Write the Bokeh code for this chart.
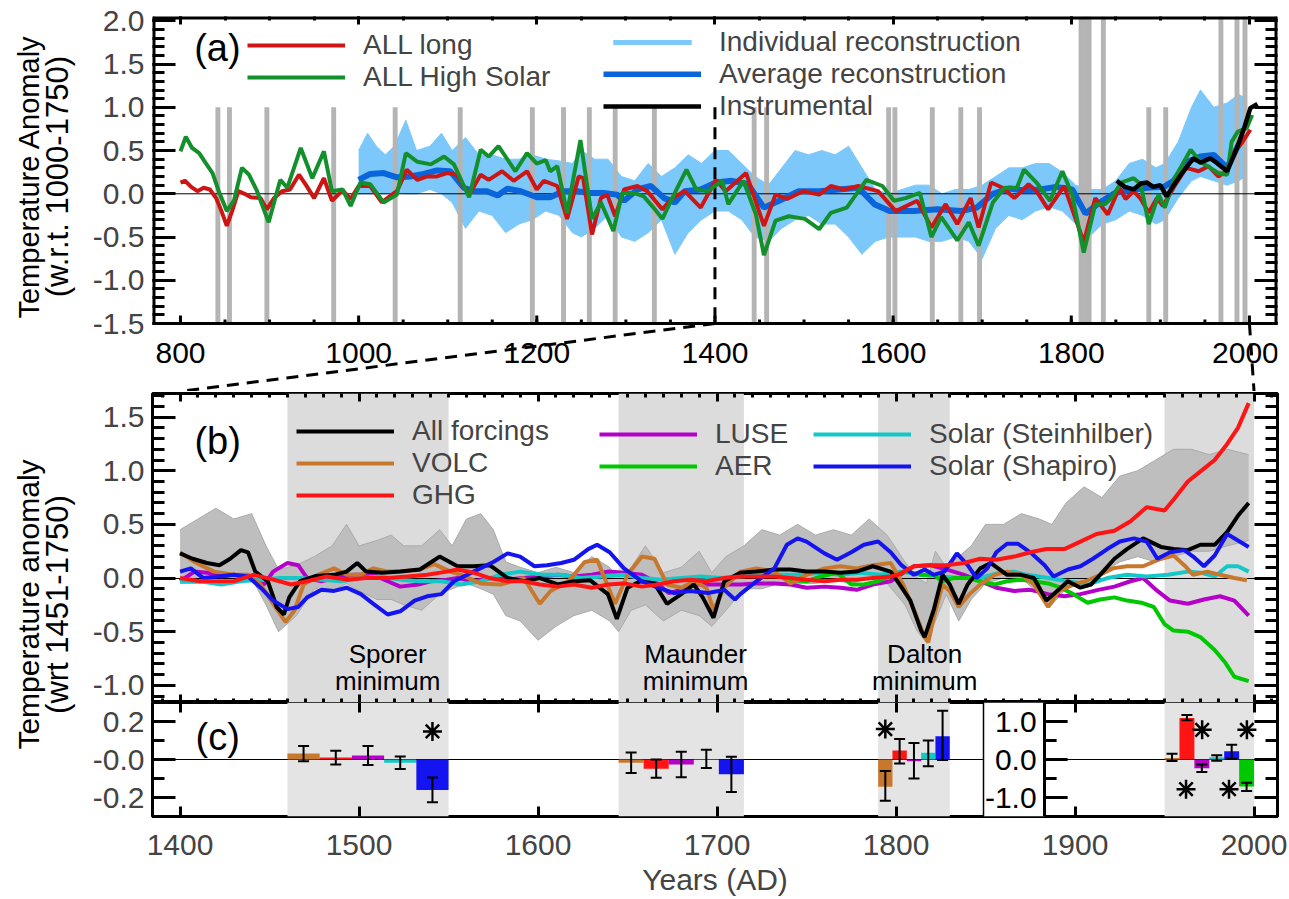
import math
from bokeh.plotting import figure
from bokeh.models import (Range1d, LinearAxis, FixedTicker, SingleIntervalTicker,
                          PrintfTickFormatter, Legend, LegendItem)
from bokeh.layouts import column, row
from bokeh.core.properties import value
from bokeh.embed import file_html
from bokeh.resources import INLINE

FONT = "Liberation Sans"

# ---------------- panel (a) data ----------------
a_red_yr = [800,805,812,819,826,833,840,846,852,858,865,872,879,890,897,905,914,923,933,941,950,961,970,982,991,1000,1013,1026,1036,1043,1054,1066,1077,1088,1099,1110,1124,1137,1146,1161,1174,1189,1200,1208,1223,1234,1247,1252,1262,1272,1279,1288,1298,1313,1324,1341,1352,1366,1384,1401,1412,1435,1455,1468,1481,1499,1517,1530,1545,1561,1583,1603,1627,1643,1659,1672,1687,1696,1710,1723,1736,1752,1761,1774,1792,1814,1827,1841,1854,1861,1870,1878,1887,1896,1903,1916,1929,1943,1954,1965,1974,1983,1991,2001]
a_red = [0.13,0.15,0.08,0.03,0.07,0.05,-0.05,-0.2,-0.37,-0.2,0.03,0.0,-0.04,-0.05,-0.18,-0.05,0.03,0.05,0.22,0.1,-0.05,0.18,-0.08,0.04,-0.06,0.09,0.09,-0.1,-0.02,0.03,0.28,0.16,0.2,0.2,0.24,0.22,-0.01,0.22,0.16,0.26,0.15,0.26,0.05,0.15,0.09,-0.29,0.2,0.18,-0.47,-0.05,-0.01,-0.26,0.05,0.09,0.03,-0.18,-0.05,0.03,-0.16,0.16,0.03,0.24,-0.37,-0.01,-0.06,0.03,-0.01,0.09,0.05,0.09,0.03,-0.2,-0.08,-0.39,-0.12,-0.35,-0.05,-0.39,0.13,0.07,-0.05,0.11,0.03,-0.18,0.09,-0.56,-0.05,-0.24,0.07,-0.06,0.03,-0.06,-0.22,-0.05,-0.14,0.09,0.3,0.26,0.32,0.2,0.26,0.49,0.58,0.74]

a_green_yr = [800,806,813,821,828,836,843,852,860,869,877,886,899,912,920,935,948,961,970,982,991,1002,1013,1028,1043,1053,1066,1081,1096,1107,1124,1137,1146,1157,1176,1189,1200,1210,1215,1223,1234,1249,1262,1272,1286,1296,1309,1320,1331,1341,1352,1368,1379,1392,1408,1415,1432,1446,1455,1468,1483,1501,1517,1530,1548,1570,1588,1601,1614,1630,1643,1654,1672,1685,1696,1712,1725,1739,1747,1761,1776,1790,1801,1814,1827,1838,1845,1856,1870,1878,1887,1898,1905,1916,1934,1945,1956,1965,1975,1980,1987,1997,2003]
a_green = [0.49,0.66,0.53,0.47,0.36,0.24,0.03,-0.2,-0.08,0.3,0.22,0.03,-0.33,0.16,0.07,0.53,0.18,0.49,0.03,0.05,-0.14,0.13,0.11,-0.1,-0.01,0.47,0.37,0.34,0.43,0.34,-0.04,0.51,0.43,0.55,0.26,0.47,0.35,0.39,0.26,0.32,-0.22,0.62,-0.29,-0.1,-0.43,0.01,0.01,-0.03,-0.16,-0.29,-0.05,0.28,0.05,0.03,0.15,-0.12,0.15,-0.24,-0.71,-0.31,-0.26,-0.29,-0.41,-0.22,-0.16,0.16,0.09,-0.08,-0.05,0.01,-0.5,-0.27,-0.54,-0.33,-0.6,-0.1,0.07,0.07,0.28,0.13,-0.08,0.26,-0.01,-0.68,-0.12,-0.12,-0.05,0.13,0.18,0.11,-0.35,-0.01,-0.16,0.18,0.51,0.37,0.3,0.24,0.22,0.6,0.72,0.76,0.91]

a_avg_yr = [1000,1013,1028,1043,1058,1073,1088,1103,1118,1129,1144,1156,1167,1182,1200,1215,1230,1245,1260,1275,1290,1298,1313,1328,1343,1355,1366,1384,1401,1419,1437,1455,1472,1494,1517,1539,1561,1579,1596,1623,1650,1676,1694,1712,1730,1747,1765,1783,1801,1816,1832,1849,1866,1885,1904,1915,1930,1945,1960,1975,1986,1994]
a_avg = [0.16,0.23,0.24,0.19,0.2,0.23,0.27,0.26,0.07,0.03,0.03,-0.02,0.06,0.03,-0.04,-0.04,0.03,0.03,0.01,0.01,-0.01,-0.08,0.05,0.09,-0.05,-0.1,0.03,0.05,0.13,0.15,0.11,-0.16,-0.08,0.03,0.03,0.05,0.07,-0.12,-0.2,-0.2,-0.18,-0.2,-0.16,0.0,0.06,0.04,0.05,0.08,0.05,-0.23,-0.1,0.01,0.04,0.07,0.08,0.15,0.37,0.43,0.45,0.3,0.53,0.68]

a_inst_yr = [1851,1860,1870,1878,1885,1892,1900,1907,1915,1923,1937,1945,1956,1963,1975,1986,1994,2001,2009]
a_inst = [0.15,0.08,0.05,0.12,0.13,0.08,0.1,-0.03,0.1,0.22,0.41,0.36,0.41,0.36,0.26,0.53,0.76,0.99,1.04]

a_ens_yr = [1000,1010,1020,1030,1040,1053,1065,1080,1093,1105,1120,1135,1150,1165,1180,1195,1210,1225,1240,1250,1265,1280,1295,1310,1325,1340,1355,1370,1385,1400,1415,1430,1445,1460,1475,1490,1505,1520,1535,1550,1565,1580,1595,1610,1625,1640,1655,1670,1685,1700,1715,1730,1745,1760,1775,1790,1805,1820,1835,1850,1865,1880,1895,1905,1920,1935,1945,1960,1975,1988,1996]
a_ens_hi = [0.5,0.7,0.55,0.45,0.55,0.85,0.5,0.55,0.7,0.5,0.65,0.45,0.45,0.4,0.4,0.45,0.4,0.38,0.35,0.5,0.4,0.4,0.2,0.15,0.35,0.2,0.3,0.45,0.35,0.5,0.5,0.35,0.2,0.1,0.3,0.5,0.45,0.5,0.45,0.55,0.3,0.05,0.0,0.05,0.1,0.1,0.0,0.05,0.05,0.1,0.2,0.3,0.3,0.35,0.35,0.25,0.1,0.05,0.05,0.15,0.35,0.4,0.3,0.35,0.6,1.0,1.2,1.0,1.05,1.15,1.1]
a_ens_lo = [0.0,0.0,0.0,0.0,0.02,0.0,0.0,0.05,0.0,-0.1,-0.4,-0.2,-0.25,-0.45,-0.35,-0.3,-0.2,-0.25,-0.45,-0.5,-0.4,-0.25,-0.5,-0.55,-0.45,-0.3,-0.7,-0.45,-0.3,-0.2,-0.2,-0.3,-0.5,-0.55,-0.4,-0.3,-0.25,-0.35,-0.35,-0.5,-0.7,-0.55,-0.5,-0.5,-0.5,-0.55,-0.55,-0.5,-0.55,-0.75,-0.4,-0.25,-0.3,-0.2,-0.15,-0.2,-0.35,-0.5,-0.35,-0.3,-0.2,-0.25,-0.35,-0.3,-0.05,0.15,0.2,0.15,0.1,0.15,0.2]

erupt_short = [842,855,897,972,1041,1114,1195,1230,1259,1288,1332,1444,1458,1595,1602,1644,1676,1697,1887,1906]
erupt_tall = [1811,1816,1820,1836,1968,1986,1995]
a_tick_years = [800,1000,1200,1400,1600,1800,2000]
a_tick_labels = ["800","1000","1200","1400","1600","1800","2000"]
a_y_ticks = [-1.5,-1.0,-0.5,0.0,0.5,1.0,1.5,2.0]

# ---------------- panel (b) data ----------------
b_all_yr = [1400,1407,1415,1422,1428,1434,1438,1442,1449,1454,1458,1461,1467,1476,1486,1493,1499,1504,1513,1523,1534,1545,1555,1564,1573,1583,1592,1601,1611,1620,1629,1639,1644,1650,1657,1665,1672,1680,1687,1692,1698,1704,1713,1722,1732,1741,1750,1760,1769,1778,1787,1797,1802,1808,1814,1816,1821,1826,1830,1835,1840,1847,1853,1862,1870,1877,1884,1890,1896,1903,1909,1914,1922,1929,1938,1948,1955,1963,1970,1978,1985,1991,1997]
b_all = [0.23,0.18,0.14,0.12,0.18,0.26,0.24,0.06,-0.03,-0.27,-0.34,-0.18,-0.03,0.02,0.03,0.06,0.14,0.06,0.05,0.06,0.08,0.2,0.11,0.11,0.12,0.0,-0.03,0.0,-0.06,-0.03,-0.02,-0.15,-0.38,-0.09,-0.03,-0.05,-0.24,-0.15,-0.06,-0.18,-0.37,-0.03,0.05,0.06,0.08,0.08,0.06,0.06,0.05,0.06,0.11,0.06,-0.06,-0.21,-0.49,-0.55,-0.3,0.03,-0.06,-0.24,-0.06,0.09,0.14,0.03,0.03,0.0,-0.21,-0.12,-0.03,-0.09,-0.06,0.03,0.18,0.27,0.37,0.29,0.27,0.26,0.31,0.31,0.43,0.58,0.7]

b_volc_yr = [1400,1408,1419,1430,1438,1445,1452,1459,1464,1469,1477,1486,1493,1501,1508,1516,1523,1534,1542,1551,1557,1568,1579,1592,1601,1607,1617,1626,1633,1643,1650,1658,1665,1672,1680,1687,1694,1698,1704,1713,1722,1732,1741,1750,1760,1769,1778,1787,1797,1804,1810,1816,1818,1821,1826,1830,1835,1841,1847,1855,1862,1870,1877,1885,1891,1899,1906,1914,1921,1929,1938,1948,1955,1961,1966,1974,1981,1989,1996]
b_volc = [0.24,0.15,0.06,0.03,0.03,-0.06,-0.24,-0.41,-0.3,-0.06,0.03,0.09,0.03,0.03,0.09,0.06,0.06,0.08,0.13,0.06,0.03,-0.05,-0.06,0.0,-0.24,-0.12,-0.03,0.15,0.17,-0.24,0.03,0.2,0.18,-0.06,-0.09,-0.03,-0.09,-0.3,-0.09,0.06,0.09,0.06,-0.05,0.03,0.09,0.11,0.09,0.12,0.14,-0.06,-0.3,-0.55,-0.6,-0.37,-0.06,-0.12,-0.27,-0.15,-0.06,0.03,0.06,0.03,-0.06,-0.27,-0.12,-0.06,-0.03,0.03,0.09,0.11,0.11,0.18,0.21,0.12,0.03,0.06,0.03,0.0,-0.02]

b_ghg_yr = [1400,1411,1430,1441,1452,1462,1471,1482,1493,1504,1516,1527,1538,1549,1555,1564,1573,1583,1592,1601,1611,1620,1630,1639,1648,1658,1667,1676,1685,1694,1704,1713,1722,1732,1741,1750,1760,1769,1778,1787,1797,1801,1810,1819,1828,1838,1847,1856,1866,1875,1884,1894,1903,1912,1922,1931,1940,1950,1955,1963,1972,1978,1985,1991,1997]
b_ghg = [0.0,-0.03,-0.03,0.03,-0.015,-0.06,-0.03,0.015,-0.015,0.0,0.0,0.015,0.03,0.06,0.08,0.05,0.0,-0.03,-0.03,-0.06,-0.08,-0.06,-0.09,-0.06,-0.05,-0.08,-0.06,-0.03,-0.015,-0.03,0.0,0.015,0.015,0.015,0.0,-0.015,-0.03,-0.015,-0.015,0.0,0.015,0.03,0.11,0.12,0.12,0.14,0.18,0.17,0.2,0.24,0.27,0.27,0.34,0.41,0.44,0.53,0.66,0.63,0.73,0.9,1.02,1.1,1.25,1.4,1.63]

b_luse_yr = [1400,1408,1415,1423,1430,1438,1447,1452,1460,1466,1471,1479,1486,1497,1508,1516,1523,1533,1540,1549,1555,1564,1574,1583,1592,1602,1611,1620,1630,1639,1648,1658,1665,1673,1680,1687,1695,1704,1713,1722,1732,1741,1750,1760,1769,1778,1787,1797,1801,1810,1819,1828,1838,1847,1856,1866,1875,1885,1894,1903,1913,1922,1931,1938,1946,1953,1963,1972,1981,1989,1997]
b_luse = [-0.03,0.06,0.05,0.015,0.03,0.0,-0.06,0.06,0.14,0.12,0.0,-0.03,0.0,0.03,0.03,-0.03,-0.08,-0.06,-0.03,-0.015,0.0,-0.03,0.0,-0.015,0.0,0.015,0.03,0.015,0.03,0.06,0.05,0.03,-0.03,-0.14,-0.11,-0.06,-0.06,-0.06,-0.06,-0.05,-0.05,-0.06,-0.09,-0.08,-0.09,-0.11,-0.06,-0.03,0.015,0.11,0.12,0.08,0.03,-0.03,-0.09,-0.12,-0.11,-0.15,-0.17,-0.15,-0.11,-0.08,-0.03,0.0,-0.12,-0.21,-0.24,-0.2,-0.17,-0.21,-0.35]

b_aer_yr = [1740,1750,1758,1767,1775,1782,1790,1799,1806,1814,1821,1826,1832,1840,1847,1855,1862,1870,1877,1885,1892,1899,1907,1914,1922,1929,1937,1944,1950,1955,1963,1970,1978,1984,1989,1997]
b_aer = [-0.02,-0.03,0.015,0.05,-0.06,-0.06,-0.03,0.03,0.06,0.03,0.03,-0.03,0.0,0.0,-0.03,-0.06,-0.03,-0.015,-0.03,-0.05,-0.09,-0.15,-0.23,-0.2,-0.18,-0.21,-0.23,-0.27,-0.43,-0.49,-0.5,-0.55,-0.67,-0.79,-0.92,-0.96]

b_sst_yr = [1400,1411,1423,1434,1445,1456,1467,1479,1490,1501,1512,1523,1534,1546,1557,1568,1579,1590,1602,1613,1624,1636,1647,1658,1669,1680,1691,1702,1713,1725,1736,1747,1758,1769,1780,1791,1803,1814,1825,1836,1847,1858,1866,1873,1885,1896,1907,1918,1929,1940,1952,1963,1970,1978,1985,1991,1997]
b_sst = [-0.03,-0.03,-0.06,-0.03,-0.015,0.0,0.0,-0.015,-0.03,0.0,0.015,-0.015,-0.03,-0.03,-0.06,-0.03,0.03,0.06,0.03,0.03,0.0,0.015,0.03,0.0,-0.015,0.0,0.015,0.0,0.015,0.03,0.03,0.03,0.05,0.03,0.05,0.03,0.06,0.03,0.015,0.0,0.0,0.05,0.06,0.03,0.0,-0.03,-0.06,0.0,0.03,0.015,0.03,0.06,0.05,0.015,0.11,0.11,0.06]

b_ssh_yr = [1400,1406,1413,1421,1430,1438,1445,1452,1460,1466,1471,1479,1486,1493,1501,1508,1516,1523,1531,1538,1546,1553,1564,1575,1583,1590,1598,1605,1613,1620,1628,1633,1640,1648,1658,1667,1676,1685,1695,1704,1710,1713,1722,1732,1739,1745,1750,1760,1767,1775,1782,1790,1797,1803,1810,1816,1821,1827,1834,1840,1845,1851,1856,1862,1868,1875,1883,1888,1896,1903,1910,1918,1925,1933,1940,1946,1953,1961,1966,1972,1978,1985,1991,1997]
b_ssh = [0.06,0.09,0.0,0.015,0.03,0.015,-0.09,-0.21,-0.29,-0.27,-0.18,-0.11,-0.12,-0.09,-0.15,-0.24,-0.34,-0.31,-0.21,-0.17,-0.15,-0.03,0.06,0.15,0.23,0.2,0.11,0.12,0.14,0.17,0.27,0.31,0.24,0.09,-0.03,-0.09,-0.14,-0.12,-0.14,-0.11,-0.2,-0.15,-0.03,0.09,0.31,0.37,0.34,0.23,0.17,0.24,0.31,0.34,0.24,0.12,0.03,0.08,0.03,0.06,0.23,0.12,0.0,0.09,0.24,0.32,0.32,0.24,0.12,0.015,0.08,0.11,0.18,0.27,0.34,0.37,0.34,0.18,0.24,0.26,0.2,0.11,0.21,0.41,0.35,0.29]

b_ens_yr = [1400,1410,1420,1430,1440,1448,1455,1465,1475,1485,1493,1500,1510,1518,1525,1535,1545,1552,1560,1568,1575,1582,1590,1600,1610,1620,1630,1640,1645,1652,1660,1670,1680,1690,1697,1705,1715,1725,1735,1745,1755,1765,1775,1785,1795,1805,1812,1817,1822,1828,1835,1842,1850,1860,1870,1880,1887,1895,1905,1915,1925,1935,1945,1955,1965,1975,1985,1997]
b_ens_hi = [0.45,0.55,0.65,0.55,0.6,0.3,0.08,0.12,0.2,0.3,0.5,0.3,0.35,0.4,0.3,0.3,0.45,0.3,0.55,0.6,0.45,0.15,0.1,0.05,0.1,0.05,0.2,0.1,0.0,0.1,0.3,0.05,0.1,0.25,0.05,0.2,0.3,0.45,0.4,0.5,0.4,0.45,0.4,0.55,0.4,0.15,0.0,-0.05,0.25,0.1,0.2,0.3,0.5,0.5,0.6,0.55,0.5,0.7,0.85,0.75,0.95,1.0,1.1,1.2,1.2,1.15,1.2,1.15]
b_ens_lo = [-0.05,-0.05,0.0,0.0,0.0,-0.25,-0.5,-0.35,-0.1,-0.12,-0.05,-0.12,-0.2,-0.2,-0.25,-0.3,-0.15,-0.1,-0.05,-0.1,-0.15,-0.35,-0.4,-0.58,-0.45,-0.35,-0.3,-0.4,-0.5,-0.3,-0.25,-0.4,-0.3,-0.35,-0.45,-0.3,-0.1,-0.1,-0.05,-0.05,-0.05,-0.02,-0.05,0.0,-0.05,-0.25,-0.5,-0.6,-0.4,-0.15,-0.4,-0.2,-0.05,0.0,0.0,-0.15,-0.25,-0.1,-0.05,0.05,0.15,0.2,0.15,0.2,0.25,0.25,0.3,0.35]

shade_start = [1460, 1645, 1790, 1950]
shade_end = [1550, 1715, 1830, 2000]
minima_names = ["Sporer", "Maunder", "Dalton"]
minima_x = [1516, 1688, 1816]

# ---------------- panel (c) data ----------------
c_sporer = [0.031, 0.01, 0.021, -0.017, -0.16]
c_sporer_lo = [-0.009, -0.026, -0.029, -0.05, -0.225]
c_sporer_hi = [0.071, 0.046, 0.071, 0.016, -0.095]
c_maunder = [-0.017, -0.049, -0.026, 0.003, -0.078]
c_maunder_lo = [-0.071, -0.096, -0.093, -0.045, -0.171]
c_maunder_hi = [0.037, 0.0, 0.041, 0.051, 0.015]
c_dalton = [-0.143, 0.047, -0.009, 0.035, 0.122]
c_dalton_lo = [-0.217, -0.021, -0.1, -0.035, -0.003]
c_dalton_hi = [-0.061, 0.108, 0.087, 0.1, 0.257]
c_modern = [0.04, 1.09, -0.23, 0.06, 0.22, -0.71]
c_modern_lo = [-0.04, 1.03, -0.33, -0.03, 0.02, -0.83]
c_modern_hi = [0.15, 1.17, -0.13, 0.11, 0.39, -0.61]
c_star_small_x = [1541, 1794]
c_star_small_y = [0.148, 0.16]
c_star_big_x = [1962, 1971, 1986, 1996]
c_star_big_y = [-0.78, 0.78, -0.78, 0.78]
c_big_ticks = [1.0, 0.0, -1.0]
c_big_labels = ["1.0", "0.0", "-1.0"]

# ---------------- styles ----------------
C_RED_A = "#CC1616"; C_GREEN_A = "#13902C"; C_AVG = "#0A64DC"; C_LIGHT = "#7DC8FA"; C_ERUPT = "#B4B4B4"
C_ALL = "black"; C_VOLC = "#C8782D"; C_GHG = "#FF1414"; C_LUSE = "#B400C8"; C_AER = "#00C800"
C_SST = "#14C8C8"; C_SSH = "#1414F0"
C_ENS_B = "#BEBEBE"; C_SHADE_B = "#DCDCDC"; C_SHADE_C = "#E4E4E4"
BAR_COLORS = [C_VOLC, C_GHG, C_LUSE, C_SST, C_SSH, C_AER]
TICK_FS = "30px"
LEG_FS = "28px"

LAB_W = 84          # width of the column holding the rotated y labels
FIG_W = 1203        # width of each panel figure
FRAME_W = 1125
A_TOP, A_FRAME, A_BOTTOM = 16, 307, 68   # panel (a): box height, plus strip for ticks + zoom lines

XA = Range1d(768.6, 2031.5)
YA_LO, YA_HI = -1.5, 2.05
A_SCALE = A_FRAME / (YA_HI - YA_LO)
YA = Range1d(YA_LO - A_BOTTOM / A_SCALE, YA_HI)
XB = Range1d(1384.6, 2013.1); YB = Range1d(-1.16, 1.72); YC = Range1d(-0.3, 0.3)


def make_fig(w, h, xr, yr, left, right, top, bottom, outline=True):
    p = figure(width=w, height=h, x_range=xr, y_range=yr, output_backend="svg",
               toolbar_location=None, x_axis_location=None, y_axis_location=None,
               min_border_left=left, min_border_right=right,
               min_border_top=top, min_border_bottom=bottom)
    p.grid.visible = False
    p.outline_line_color = "black" if outline else None
    p.outline_line_width = 3
    p.background_fill_color = "white"
    p.border_fill_color = "white"
    return p


def add_axis(p, side, ticker, major_in, minor_in, labels=False, fmt=None,
             overrides=None, axis_label=None, standoff=8):
    ax = LinearAxis(ticker=ticker)
    ax.axis_line_color = None
    ax.major_tick_in = major_in
    ax.major_tick_out = 0
    ax.minor_tick_in = minor_in
    ax.minor_tick_out = 0
    ax.major_tick_line_width = 3
    ax.minor_tick_line_width = 3
    if labels:
        ax.major_label_text_font = FONT
        ax.major_label_text_font_size = TICK_FS
        ax.major_label_standoff = standoff
        if fmt is not None:
            ax.formatter = fmt
        if overrides:
            ax.major_label_overrides = overrides
    else:
        ax.major_label_text_font_size = "0px"
        ax.major_label_standoff = 0
        ax.major_label_text_color = None
    if axis_label:
        ax.axis_label = axis_label
        ax.axis_label_text_font = FONT
        ax.axis_label_text_font_size = "30px"
        ax.axis_label_text_font_style = "normal"
        ax.axis_label_standoff = 5
    p.add_layout(ax, side)
    return ax


def make_legend(items, loc):
    return Legend(items=items, location=loc, glyph_width=98, glyph_height=6,
                  label_standoff=18, spacing=0, padding=0, margin=0,
                  border_line_color=None, background_fill_alpha=0,
                  label_text_font=FONT, label_text_font_size=LEG_FS)


def text_fig(w, h, lines):
    p = figure(width=w, height=h, x_range=Range1d(0, w), y_range=Range1d(0, h),
               output_backend="svg", toolbar_location=None,
               x_axis_location=None, y_axis_location=None,
               min_border_left=0, min_border_right=0, min_border_top=0, min_border_bottom=0)
    p.grid.visible = False
    p.outline_line_color = None
    for (x, y, t, fs) in lines:
        p.text(x=[x], y=[y], text=[t], angle=math.pi / 2, text_align="center",
               text_baseline="middle", text_font=value(FONT), text_font_size=fs,
               text_color="black")
    return p


# ================= panel (a) =================
A_H = A_TOP + A_FRAME + A_BOTTOM
pa = make_fig(FIG_W, A_H, XA, YA, 68, FIG_W - 68 - FRAME_W, A_TOP, 0, outline=False)
r_ens_a = pa.varea(x=a_ens_yr, y1=a_ens_lo, y2=a_ens_hi, fill_color=C_LIGHT)
pa.line(a_ens_yr, a_ens_hi, line_color=C_LIGHT, line_width=1)
pa.line(a_ens_yr, a_ens_lo, line_color=C_LIGHT, line_width=1)
pa.vbar(x=erupt_short, width=5.5, bottom=YA_LO, top=1.0, fill_color=C_ERUPT, line_color=None)
pa.vbar(x=erupt_tall, width=5.5, bottom=YA_LO, top=YA_HI, fill_color=C_ERUPT, line_color=None)
pa.segment(x0=[XA.start], y0=[0], x1=[XA.end], y1=[0], line_color="black", line_width=1)
pa.segment(x0=[1400], y0=[1.0], x1=[1400], y1=[YA_LO], line_color="black",
           line_width=3, line_dash="12 8")
r_avg = pa.line(a_avg_yr, a_avg, line_color=C_AVG, line_width=6)
r_red = pa.line(a_red_yr, a_red, line_color=C_RED_A, line_width=4)
r_green = pa.line(a_green_yr, a_green, line_color=C_GREEN_A, line_width=4)
r_inst = pa.line(a_inst_yr, a_inst, line_color="black", line_width=4.5)
pa.text(x=[841.5], y=[1.69], text=["(a)"], text_align="center", text_baseline="middle",
        text_font=value(FONT), text_font_size="38px")

# box of panel (a) (the figure frame also holds the strip below it)
pa.segment(x0=[XA.start, XA.end], y0=[YA_LO, YA_LO], x1=[XA.start, XA.end], y1=[YA_HI, YA_HI],
           line_color="black", line_width=6)
pa.segment(x0=[XA.start], y0=[YA_HI], x1=[XA.end], y1=[YA_HI], line_color="black", line_width=6)
pa.segment(x0=[XA.start], y0=[YA_LO], x1=[XA.end], y1=[YA_LO], line_color="black", line_width=3)
# bottom ticks and tick labels of (a)
pa.ray(x=a_tick_years, y=[YA_LO] * len(a_tick_years), length=8, length_units="screen",
       angle=math.pi / 2, line_color="black", line_width=3)
a_minor_x = list(range(800, 2001, 50))
pa.ray(x=a_minor_x, y=[YA_LO] * len(a_minor_x), length=4, length_units="screen",
       angle=math.pi / 2, line_color="black", line_width=3)
pa.text(x=a_tick_years, y=[YA_LO] * len(a_tick_years), text=a_tick_labels,
        y_offset=29, x_offset=[0, 0, 0, 0, 0, 0, -4], text_align="center",
        text_baseline="middle", text_font=value(FONT), text_font_size=TICK_FS)


# dashed zoom lines from (a) down to the 1400-2000 window of (b)
def b_to_a(v):
    return XA.start + (v - XB.start) * (XA.end - XA.start) / (XB.end - XB.start)


pa.segment(x0=[1400, 2000], y0=[YA_LO, YA_LO], x1=[b_to_a(1400), b_to_a(2000)],
           y1=[YA.start, YA.start], line_color="black", line_width=3, line_dash="12 8")

a_minor_y = [round(YA_LO + 0.1 * i, 2) for i in range(36)]
add_axis(pa, "left", FixedTicker(ticks=a_y_ticks, minor_ticks=a_minor_y), 23, 12,
         labels=True, fmt=PrintfTickFormatter(format="%.1f"))
add_axis(pa, "right", FixedTicker(ticks=a_y_ticks, minor_ticks=a_minor_y), 23, 12)
add_axis(pa, "above", FixedTicker(ticks=a_tick_years, minor_ticks=list(range(750, 2051, 50))), 8, 4)

pa.add_layout(make_legend([LegendItem(label="ALL long", renderers=[r_red]),
                           LegendItem(label="ALL High Solar", renderers=[r_green])],
                          (95, 230 + A_BOTTOM)), "center")
pa.add_layout(make_legend([LegendItem(label="Individual reconstruction", renderers=[r_ens_a]),
                           LegendItem(label="Average reconstruction", renderers=[r_avg]),
                           LegendItem(label="Instrumental", renderers=[r_inst])],
                          (451, 201 + A_BOTTOM)), "center")

lab_a = text_fig(LAB_W, A_H, [(28, A_H - 167, "Temperature Anomaly", "29px"),
                              (57, A_H - 167, "(w.r.t. 1000-1750)", "31px")])

# ================= panel (b) =================
pb = make_fig(FIG_W, 311, XB, YB, 68, FIG_W - 68 - FRAME_W, 2, 0)
pb.quad(left=shade_start, right=shade_end, bottom=YB.start, top=YB.end,
        fill_color=C_SHADE_B, line_color=None)
pb.varea(x=b_ens_yr, y1=b_ens_lo, y2=b_ens_hi, fill_color=C_ENS_B)
pb.line(b_ens_yr, b_ens_hi, line_color="#AAAAAA", line_width=1)
pb.line(b_ens_yr, b_ens_lo, line_color="#AAAAAA", line_width=1)
pb.hspan(y=[0], line_color="black", line_width=1)
r_luse = pb.line(b_luse_yr, b_luse, line_color=C_LUSE, line_width=4)
r_sst = pb.line(b_sst_yr, b_sst, line_color=C_SST, line_width=4)
r_aer = pb.line(b_aer_yr, b_aer, line_color=C_AER, line_width=4)
r_volc = pb.line(b_volc_yr, b_volc, line_color=C_VOLC, line_width=4)
r_all = pb.line(b_all_yr, b_all, line_color=C_ALL, line_width=4)
r_ssh = pb.line(b_ssh_yr, b_ssh, line_color=C_SSH, line_width=4)
r_ghg = pb.line(b_ghg_yr, b_ghg, line_color=C_GHG, line_width=4)
pb.text(x=[1421], y=[1.28], text=["(b)"], text_align="center", text_baseline="middle",
        text_font=value(FONT), text_font_size="38px")
pb.text(x=minima_x, y=[-0.71] * 3, text=minima_names, text_align="center",
        text_baseline="middle", text_font=value(FONT), text_font_size="26px")
pb.text(x=minima_x, y=[-0.96] * 3, text=["minimum"] * 3, text_align="center",
        text_baseline="middle", text_font=value(FONT), text_font_size="26px")

add_axis(pb, "left", SingleIntervalTicker(interval=0.5, num_minor_ticks=5), 23, 12,
         labels=True, fmt=PrintfTickFormatter(format="%.1f"))
add_axis(pb, "right", SingleIntervalTicker(interval=0.5, num_minor_ticks=5), 23, 12)
add_axis(pb, "above", FixedTicker(ticks=list(range(1400, 2001, 100)),
                                  minor_ticks=list(range(1380, 2021, 10))), 8, 4)
add_axis(pb, "below", FixedTicker(ticks=list(range(1400, 2001, 100)),
                                  minor_ticks=list(range(1380, 2021, 10))), 8, 4)

pb.add_layout(make_legend([LegendItem(label="All forcings", renderers=[r_all]),
                           LegendItem(label="VOLC", renderers=[r_volc]),
                           LegendItem(label="GHG", renderers=[r_ghg])], (144, 191)), "center")
pb.add_layout(make_legend([LegendItem(label="LUSE", renderers=[r_luse]),
                           LegendItem(label="AER", renderers=[r_aer])], (447, 220)), "center")
pb.add_layout(make_legend([LegendItem(label="Solar (Steinhilber)", renderers=[r_sst]),
                           LegendItem(label="Solar (Shapiro)", renderers=[r_ssh])], (661, 220)), "center")

# ================= panel (c) =================
pc = make_fig(FIG_W, 196, XB, YC, 68, FIG_W - 68 - FRAME_W, 0, 80)
pc.extra_y_ranges = {"big": Range1d(-1.5, 1.5)}
pc.quad(left=shade_start, right=shade_end, bottom=-0.3, top=0.3,
        fill_color=C_SHADE_C, line_color=None)
pc.hspan(y=[0], line_color="black", line_width=1)


def period_bars(start, end, vals, lo, hi, rng="default"):
    n = len(vals)
    w = (end - start) / n
    xs = [start + (i + 0.5) * w for i in range(n)]
    pc.vbar(x=xs, width=w, bottom=0, top=vals, fill_color=BAR_COLORS[:n],
            line_color=None, y_range_name=rng)
    pc.segment(x0=xs, y0=lo, x1=xs, y1=hi, line_color="black", line_width=2, y_range_name=rng)
    pc.scatter(x=xs + xs, y=lo + hi, marker="dash", size=11, line_color="black",
               line_width=2, y_range_name=rng)


period_bars(shade_start[0], shade_end[0], c_sporer, c_sporer_lo, c_sporer_hi)
period_bars(shade_start[1], shade_end[1], c_maunder, c_maunder_lo, c_maunder_hi)
period_bars(shade_start[2], shade_end[2], c_dalton, c_dalton_lo, c_dalton_hi)
period_bars(shade_start[3], shade_end[3], c_modern, c_modern_lo, c_modern_hi, rng="big")
pc.scatter(x=c_star_small_x, y=c_star_small_y, marker="asterisk", size=19,
           line_color="black", line_width=2.5)
pc.scatter(x=c_star_big_x, y=c_star_big_y, marker="asterisk", size=19,
           line_color="black", line_width=2.5, y_range_name="big")

# axis break: white gap with an inner axis for the large scale
GAP_L, GAP_R = 1849, 1883
pc.quad(left=[GAP_L], right=[GAP_R], bottom=[-0.3], top=[0.3], fill_color="white", line_color=None)
pc.vspan(x=[GAP_L], line_color="black", line_width=1.5)
pc.vspan(x=[GAP_R], line_color="black", line_width=3)
pc.ray(x=[GAP_R] * 3, y=c_big_ticks, length=23, length_units="screen", angle=0,
       line_color="black", line_width=3, y_range_name="big")
pc.ray(x=[GAP_R] * 2, y=[0.5, -0.5], length=12, length_units="screen", angle=0,
       line_color="black", line_width=3, y_range_name="big")
pc.text(x=[GAP_R] * 3, y=c_big_ticks, text=c_big_labels, x_offset=-8, text_align="right",
        text_baseline="middle", text_font=value(FONT), text_font_size=TICK_FS,
        y_range_name="big")
pc.text(x=[1421], y=[0.119], text=["(c)"], text_align="center", text_baseline="middle",
        text_font=value(FONT), text_font_size="38px")

add_axis(pc, "left", FixedTicker(ticks=[-0.2, 0.0, 0.2], minor_ticks=[-0.3, -0.1, 0.1, 0.3]),
         23, 12, labels=True, fmt=PrintfTickFormatter(format="%.1f"), overrides={0: "-0.0"})
add_axis(pc, "right", FixedTicker(ticks=[-0.2, 0.0, 0.2], minor_ticks=[-0.3, -0.1, 0.1, 0.3]),
         23, 12)
add_axis(pc, "above", FixedTicker(ticks=list(range(1400, 2001, 100))), 10, 0)
add_axis(pc, "below", FixedTicker(ticks=list(range(1400, 2001, 100))), 10, 0,
         labels=True, fmt=PrintfTickFormatter(format="%d"), axis_label="Years (AD)",
         standoff=18)

lab_b = text_fig(LAB_W, 311 + 196, [(28, 294, "Temperature anomaly", "30px"),
                                    (57, 294, "(wrt 1451-1750)", "31px")])

layout = column(row(lab_a, pa), row(lab_b, column(pb, pc)))
open("out.html", "w").write(file_html(layout, INLINE))
